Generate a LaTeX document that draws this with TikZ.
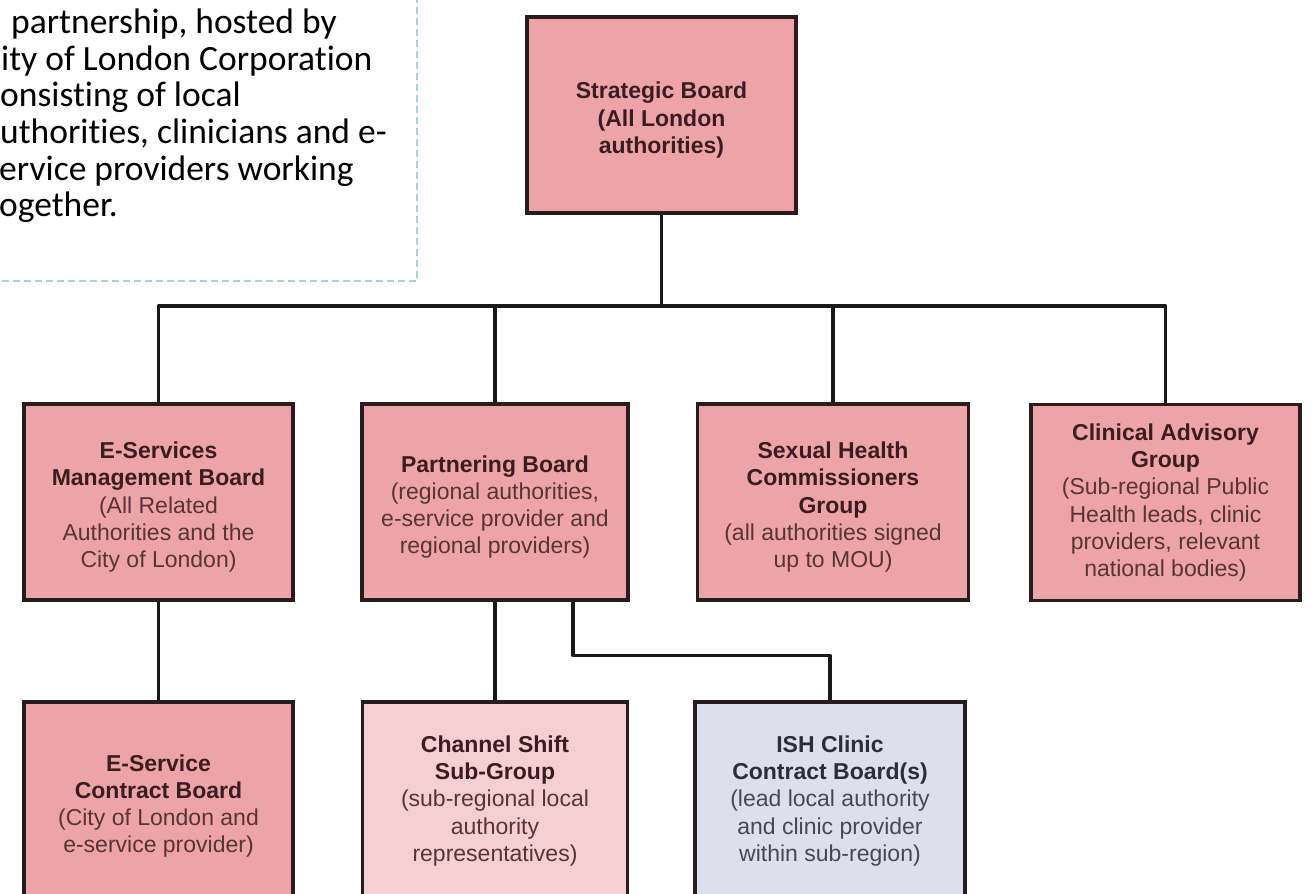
\documentclass[tikz,border=0pt]{standalone}
\usepackage{fontspec}
\setmainfont{Liberation Sans}
\newfontfamily\calib[Ligatures={NoCommon}]{Carlito}
\definecolor{pinkA}{RGB}{236,164,168}
\definecolor{pinkB}{RGB}{246,207,210}
\definecolor{lav}{RGB}{221,224,236}
\definecolor{boxline}{RGB}{40,28,30}
\definecolor{ttl}{RGB}{58,28,34}
\definecolor{dsc}{RGB}{88,52,54}
\definecolor{ttlg}{RGB}{45,45,56}
\definecolor{dscg}{RGB}{72,72,84}
\definecolor{dashc}{RGB}{163,211,220}
\newcommand\tl[1]{\textcolor{ttl}{\bfseries #1}}
\newcommand\dl[1]{\textcolor{dsc}{#1}}
\newcommand\tg[1]{\textcolor{ttlg}{\bfseries #1}}
\newcommand\dg[1]{\textcolor{dscg}{#1}}
\newcommand\topstrut{\rule{0pt}{27pt}}
\begin{document}
\begin{tikzpicture}[x=1pt,y=-1pt,
  box/.style={draw=boxline, line width=3.2pt, fill=pinkA, minimum width=269pt,
    minimum height=196pt, align=center, inner sep=0pt,
    font=\fontsize{23}{27.2}\selectfont},
  conn/.style={line width=3.5pt, draw=black!90, line join=round},
  note/.style={anchor=base west, inner sep=0pt, font=\calib\fontsize{35.5}{36.7}\selectfont, text=black}]
\useasboundingbox (0,0) rectangle (1315,894);
\fill[white] (0,0) rectangle (1315,894);
\clip (0,0) rectangle (1315,894);

% note text box (cropped)
\draw[dashc, line width=2pt, dash pattern=on 7pt off 4pt] (-20,281) -- (417,281) -- (417,-20);
\node[note] (t1) at (11,33) {partnership, hosted by};
\node[note] (t2) at (1,70) {ity of London Corporation};
\node[note] (t3) at (0,106.5) {onsisting of local};
\node[note] (t4) at (0,143) {uthorities, clinicians and e-};
\node[note] (t5) at (-1,180) {ervice providers working};
\node[note] (t6) at (-1,216.5) {ogether.};

% boxes
\node[box] (sb) at (661.5,115) {\topstrut\tl{Strategic Board}\\\tl{(All London}\\\tl{authorities)}};

\node[box] (esm) at (158.5,502) {\topstrut\tl{E-Services}\\\tl{Management Board}\\\dl{(All Related}\\\dl{Authorities and the}\\\dl{City of London)}};
\node[box, minimum width=266pt] (pb) at (495,502) {\topstrut\tl{Partnering Board}\\\dl{(regional authorities,}\\\dl{e-service provider and}\\\dl{regional providers)}};
\node[box, minimum width=271pt] (sh) at (833,502) {\topstrut\tl{Sexual Health}\\\tl{Commissioners}\\\tl{Group}\\\dl{(all authorities signed}\\\dl{up to MOU)}};
\node[box] (ca) at (1165.5,502.5) {\tl{Clinical Advisory}\\\tl{Group}\\\dl{(Sub-regional Public}\\\dl{Health leads, clinic}\\\dl{providers, relevant}\\\dl{national bodies)}};

\node[box, minimum height=198pt] (esc) at (158.5,801) {\topstrut\tl{E-Service}\\\tl{Contract Board}\\\dl{(City of London and}\\\dl{e-service provider)}};
\node[box, minimum height=198pt, minimum width=265pt, fill=pinkB] (cs) at (495,801) {\tl{Channel Shift}\\\tl{Sub-Group}\\\dl{(sub-regional local}\\\dl{authority}\\\dl{representatives)}};
\node[box, minimum height=198pt, minimum width=270pt, fill=lav] (ish) at (830,801) {\tg{ISH Clinic}\\\tg{Contract Board(s)}\\\dg{(lead local authority}\\\dg{and clinic provider}\\\dg{within sub-region)}};

% connectors
\coordinate (bar) at (661.5,306);
\draw[conn] (sb.south) -- (bar);
\draw[conn] (bar) -| (esm.north);
\draw[conn] (bar) -| (pb.north);
\draw[conn] (bar) -| (sh.north);
\draw[conn] (bar) -| (ca.north);
\draw[conn] (esm.south) -- (esc.north);
\draw[conn] (pb.south) -- (cs.north);
\draw[conn] ([xshift=78pt]pb.south) -- ++(0,54) -| (ish.north);
\end{tikzpicture}
\end{document}
